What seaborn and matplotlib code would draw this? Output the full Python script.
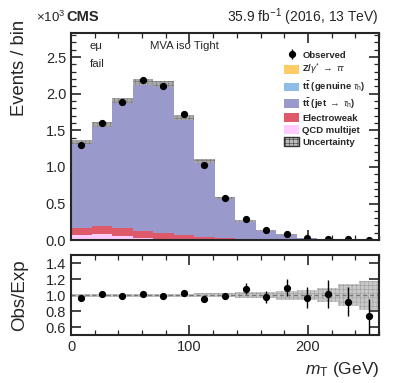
import numpy as np
import pandas as pd
import matplotlib
matplotlib.use("Agg")
import matplotlib.pyplot as plt
import seaborn as sns
from matplotlib.patches import Patch
from matplotlib.ticker import MultipleLocator

# ---------------- data (values in units of 10^3 events) ----------------
mt_edges = [0.0, 17.33, 34.67, 52.0, 69.33, 86.67, 104.0, 121.33, 138.67,
            156.0, 173.33, 190.67, 208.0, 225.33, 242.67, 260.0]
ztt = [0.003, 0.003, 0.003, 0.002, 0.002, 0.001, 0.001, 0.001, 0.0, 0.0, 0.0, 0.0, 0.0, 0.0, 0.0]
tt_genuine = [0.006, 0.007, 0.007, 0.006, 0.005, 0.004, 0.003, 0.002, 0.001, 0.001, 0.0, 0.0, 0.0, 0.0, 0.0]
tt_jet = [1.172, 1.382, 1.735, 2.020, 2.023, 1.598, 1.030, 0.544, 0.250, 0.129, 0.071, 0.031, 0.017, 0.009, 0.006]
electroweak = [0.096, 0.105, 0.110, 0.105, 0.086, 0.064, 0.041, 0.024, 0.012, 0.006, 0.003, 0.002, 0.001, 0.001, 0.0]
qcd = [0.069, 0.083, 0.050, 0.023, 0.014, 0.009, 0.005, 0.004, 0.002, 0.001, 0.001, 0.0, 0.0, 0.0, 0.0]
observed = [1.300, 1.596, 1.886, 2.184, 2.109, 1.720, 1.031, 0.569, 0.286, 0.134, 0.082, 0.032, 0.0183, 0.0092, 0.0044]
observed_err = [0.016, 0.019, 0.021, 0.022, 0.021, 0.020, 0.016, 0.0115, 0.018, 0.0107, 0.0083, 0.0042, 0.0031, 0.00185, 0.0013]
unc_rel = [0.02, 0.02, 0.02, 0.02, 0.02, 0.02, 0.025, 0.028, 0.04, 0.042, 0.057, 0.065, 0.09, 0.137, 0.18]

process_names = [r"Z/$\gamma^{*}$ $\rightarrow$ $\tau\tau$",
                 r"$\mathbf{t\bar{t}}$ (genuine $\tau_{\mathrm{h}}$)",
                 r"$\mathbf{t\bar{t}}$ (jet $\rightarrow$ $\tau_{\mathrm{h}}$)",
                 "Electroweak", "QCD multijet"]
process_values = [ztt, tt_genuine, tt_jet, electroweak, qcd]
process_colors = ["#ffcc66", "#8fbce6", "#9999cc", "#de5a6a", "#ffccff"]

# ---------------- derived arrays ----------------
edges = np.array(mt_edges)
centers = 0.5 * (edges[:-1] + edges[1:])
widths = np.diff(edges)
total = np.sum([np.array(v) for v in process_values], axis=0)
obs = np.array(observed)
obs_err = np.array(observed_err)
unc_abs = total * np.array(unc_rel)

rows = []
for name, vals in zip(process_names, process_values):
    for c, v in zip(centers, vals):
        rows.append({"mt": float(c), "w": float(v), "process": name})
df = pd.DataFrame(rows)

# ---------------- style ----------------
sns.set_style("ticks")
plt.rcParams["font.family"] = ["Liberation Sans", "DejaVu Sans"]
plt.rcParams["mathtext.fontset"] = "custom"
plt.rcParams["mathtext.rm"] = "Liberation Sans"
plt.rcParams["mathtext.it"] = "Liberation Sans:italic"
plt.rcParams["mathtext.bf"] = "Liberation Sans:bold"
plt.rcParams["hatch.linewidth"] = 0.35

fig = plt.figure(figsize=(3.99, 3.83), dpi=100)
ax = fig.add_axes([0.178, 0.373, 0.772, 0.541])
rax = fig.add_axes([0.178, 0.125, 0.772, 0.209])

sns.histplot(data=df, x="mt", weights="w", hue="process", hue_order=process_names,
             bins=list(mt_edges), multiple="stack", element="step", fill=True,
             palette=dict(zip(process_names, process_colors)), alpha=1.0,
             linewidth=0, legend=False, ax=ax)

band = ax.bar(centers, 2 * unc_abs, bottom=total - unc_abs, width=widths,
              color="#a8a8a8", edgecolor="#707070", linewidth=0, hatch="++++")
obs_h = ax.errorbar(centers, obs, yerr=obs_err, fmt="o", color="black",
                    markersize=4.2, elinewidth=1.0, capsize=0)

ax.set_xlim(0, 260)
ax.set_ylim(0, 2.83)
ax.set_xlabel("")
ax.set_ylabel("Events / bin", fontsize=13.2, loc="top")
ax.tick_params(labelbottom=False)

# ratio panel
ratio = obs / total
ratio_err = obs_err / total
rax.bar(centers, 2 * np.array(unc_rel), bottom=1 - np.array(unc_rel), width=widths,
        color="#c8c8c8", edgecolor="#9a9a9a", linewidth=0, hatch="++++")
rax.axhline(1.0, color="#777777", linestyle=(0, (3, 2)), linewidth=1.0)
rax.errorbar(centers, ratio, yerr=ratio_err, fmt="o", color="black",
             markersize=4.2, elinewidth=1.0, capsize=0)
rax.set_xlim(0, 260)
rax.set_ylim(0.5, 1.5)
rax.set_ylabel("Obs/Exp", fontsize=13.5)
rax.set_xlabel(r"$m_{\mathrm{T}}$ (GeV)", fontsize=12.5, loc="right")
rax.set_yticks([0.6, 0.8, 1.0, 1.2, 1.4])

for a in (ax, rax):
    for s in a.spines.values():
        s.set_linewidth(1.5)
        s.set_visible(True)
    a.tick_params(which="both", direction="in", top=True, right=True, labelsize=10.5)
    a.tick_params(which="major", length=7, width=1.2)
    a.tick_params(which="minor", length=3.5, width=0.9)
    a.xaxis.set_major_locator(MultipleLocator(100))
    a.xaxis.set_minor_locator(MultipleLocator(20))
ax.yaxis.set_major_locator(MultipleLocator(0.5))
ax.yaxis.set_minor_locator(MultipleLocator(0.1))
ax.yaxis.set_major_formatter(matplotlib.ticker.FormatStrFormatter("%.1f"))
rax.yaxis.set_major_formatter(matplotlib.ticker.FormatStrFormatter("%.1f"))
ax.yaxis.set_label_coords(-0.14, 1.063)
rax.yaxis.set_label_coords(-0.14, 0.5)

# texts
fig.text(0.163, 0.955, r"$\times10^{3}$", fontsize=9.5, va="center", ha="right")
fig.text(0.166, 0.955, "CMS", fontsize=10.5, fontweight="bold", va="center", ha="left")
fig.text(0.95, 0.955, r"35.9 fb$^{-1}$ (2016, 13 TeV)", fontsize=10, va="center", ha="right")
ax.text(0.06, 0.935, "eμ", fontsize=8.2, transform=ax.transAxes, va="center")
ax.text(0.06, 0.85, "fail", fontsize=8.2, transform=ax.transAxes, va="center")
ax.text(0.255, 0.935, "MVA iso Tight", fontsize=8.2, transform=ax.transAxes, va="center")

handles = [obs_h] + [Patch(facecolor=c, edgecolor="none") for c in process_colors] + \
          [Patch(facecolor="#bbbbbb", edgecolor="#333333", hatch="++++", linewidth=1.0)]
labels = ["Observed"] + process_names + ["Uncertainty"]
leg = ax.legend(handles, labels, loc="upper left", bbox_to_anchor=(0.68, 0.935),
                frameon=False, fontsize=6.8, handlelength=1.6, handleheight=1.0,
                labelspacing=0.27, handletextpad=0.3, borderaxespad=0)
for t in leg.get_texts():
    t.set_fontweight("bold")

fig.savefig("out.png", dpi=100)
